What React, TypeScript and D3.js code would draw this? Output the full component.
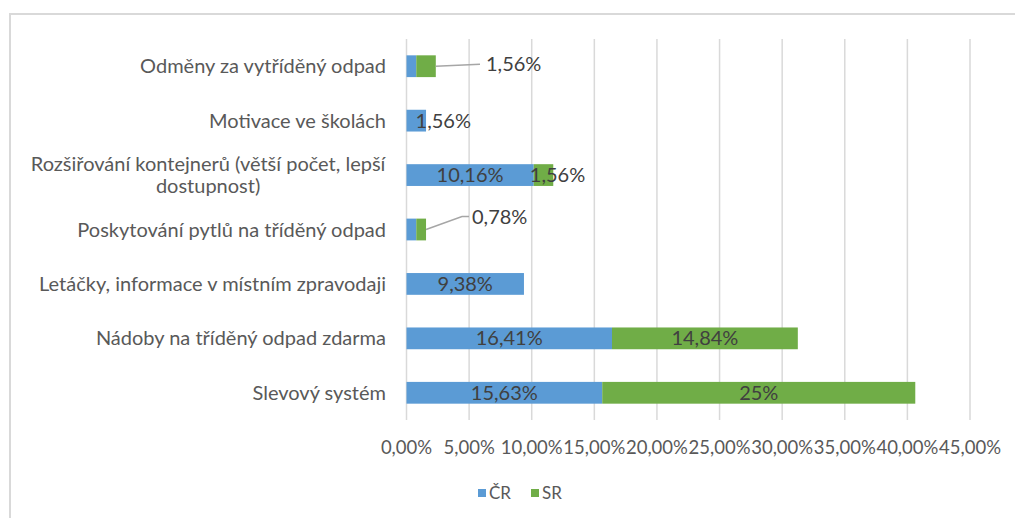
import React, { useEffect, useRef } from "react";
import * as d3 from "d3";

const categories = [
  "Odměny za vytříděný odpad",
  "Motivace ve školách",
  "Rozšiřování kontejnerů (větší počet, lepší dostupnost)",
  "Poskytování pytlů na tříděný odpad",
  "Letáčky, informace v místním zpravodaji",
  "Nádoby na tříděný odpad zdarma",
  "Slevový systém",
];
const seriesNames = ["ČR", "SR"];
const crValues = [0.78, 1.56, 10.16, 0.78, 9.38, 16.41, 15.63];
const srValues = [1.56, 0, 1.56, 0.78, 0, 14.84, 25];
const crLabelShown = [false, true, true, false, true, true, true];
const srLabelShown = [true, false, true, true, false, true, true];
const xTicks = [0, 5, 10, 15, 20, 25, 30, 35, 40, 45];

const COLORS = ["#5B9BD5", "#70AD47"];
const FONT = "Lato, 'Open Sans', sans-serif";

const fmtVal = (v: number) =>
  (Number.isInteger(v) ? String(v) : v.toFixed(2)).replace(".", ",") + "%";

export default function App() {
  const ref = useRef<SVGSVGElement>(null);

  useEffect(() => {
    const svg = d3.select(ref.current);
    svg.selectAll("*").remove();
    const W = 1015, H = 518;
    const left = 406.5, right = 970, top = 39, bottom = 420;

    // chart frame
    svg.append("rect").attr("x", 10).attr("y", 14).attr("width", W + 20).attr("height", H + 20)
      .attr("fill", "#fff").attr("stroke", "#d9d9d9").attr("stroke-width", 2);

    const x = d3.scaleLinear().domain([0, 45]).range([left, right]);
    const y = d3.scaleBand().domain(categories).range([top, bottom]).paddingInner(0.6).paddingOuter(0.3);

    // gridlines
    svg.append("g").selectAll("line").data(xTicks).join("line")
      .attr("x1", (d) => x(d)).attr("x2", (d) => x(d))
      .attr("y1", top).attr("y2", bottom)
      .attr("stroke", "#d9d9d9").attr("stroke-width", 1.5);

    // tick labels
    svg.append("g").selectAll("text").data(xTicks).join("text")
      .attr("x", (d) => x(d)).attr("y", 454)
      .attr("text-anchor", "middle")
      .attr("font-family", FONT).attr("font-size", 18.5).attr("fill", "#595959")
      .text((d) => d.toFixed(2).replace(".", ",") + "%");

    const rows = categories.map((c, i) => ({ c, i, cr: crValues[i], sr: srValues[i] }));

    // bars
    const g = svg.append("g");
    g.selectAll("rect.cr").data(rows).join("rect").attr("class", "cr")
      .attr("x", x(0)).attr("y", (d) => y(d.c)!)
      .attr("width", (d) => x(d.cr) - x(0)).attr("height", y.bandwidth())
      .attr("fill", COLORS[0]);
    g.selectAll("rect.sr").data(rows.filter((d) => d.sr > 0)).join("rect").attr("class", "sr")
      .attr("x", (d) => x(d.cr)).attr("y", (d) => y(d.c)!)
      .attr("width", (d) => x(d.cr + d.sr) - x(d.cr)).attr("height", y.bandwidth())
      .attr("fill", COLORS[1]);

    // category labels
    const catG = svg.append("g");
    rows.forEach((d) => {
      const cy = y(d.c)! + y.bandwidth() / 2;
      const lines = d.i === 2
        ? ["Rozšiřování kontejnerů (větší počet, lepší", "dostupnost)"]
        : [d.c];
      const t = catG.append("text")
        .attr("font-family", FONT).attr("font-size", 20).attr("fill", "#595959")
        .attr("text-anchor", "middle");
      const lh = 22;
      lines.forEach((ln, k) => {
        t.append("tspan").attr("x", 0)
          .attr("y", cy + 7 + (k - (lines.length - 1) / 2) * lh).text(ln);
      });
      const w = (t.node() as SVGTextElement).getBBox().width;
      t.selectAll("tspan").attr("x", 386 - w / 2);
    });

    // data labels
    const lab = svg.append("g").attr("font-family", FONT).attr("font-size", 20).attr("fill", "#404040");
    const labelOffsetCR: Record<number, number> = { 1: 27 };
    const labelOffsetSR: Record<number, number> = { 2: 14 };
    rows.forEach((d) => {
      const cy = y(d.c)! + y.bandwidth() / 2 + 7;
      if (crLabelShown[d.i]) {
        lab.append("text").attr("text-anchor", "middle")
          .attr("x", (x(0) + x(d.cr)) / 2 + (labelOffsetCR[d.i] || 0)).attr("y", cy)
          .text(fmtVal(d.cr));
      }
      if (srLabelShown[d.i]) {
        if (d.i === 0 || d.i === 3) {
          const endX = x(d.cr + d.sr);
          const my = y(d.c)! + y.bandwidth() / 2;
          const pts: [number, number][] = d.i === 0
            ? [[endX, my], [480, my - 2]]
            : [[endX, my], [462, my - 13], [469, my - 13]];
          lab.append("path").attr("d", d3.line()(pts)!)
            .attr("fill", "none").attr("stroke", "#a6a6a6").attr("stroke-width", 1.5);
          const lx = d.i === 0 ? 486 : 472;
          lab.append("text").attr("text-anchor", "start")
            .attr("x", lx).attr("y", d.i === 0 ? my - 2 + 7 : my - 13 + 7)
            .text(fmtVal(d.sr));
        } else {
          lab.append("text").attr("text-anchor", "middle")
            .attr("x", (x(d.cr) + x(d.cr + d.sr)) / 2 + (labelOffsetSR[d.i] || 0)).attr("y", cy)
            .text(fmtVal(d.sr));
        }
      }
    });

    // legend
    const leg = svg.append("g");
    const legX = [478, 531];
    seriesNames.forEach((s, i) => {
      leg.append("rect").attr("x", legX[i]).attr("y", 489).attr("width", 8).attr("height", 8)
        .attr("fill", COLORS[i]);
      leg.append("text").attr("x", legX[i] + 11).attr("y", 499)
        .attr("font-family", FONT).attr("font-size", 17).attr("fill", "#595959").text(s);
    });
  }, []);

  return (
    <svg ref={ref} width={1015} height={518}
      style={{ position: "absolute", left: 0, top: 0, background: "#fff" }} />
  );
}
